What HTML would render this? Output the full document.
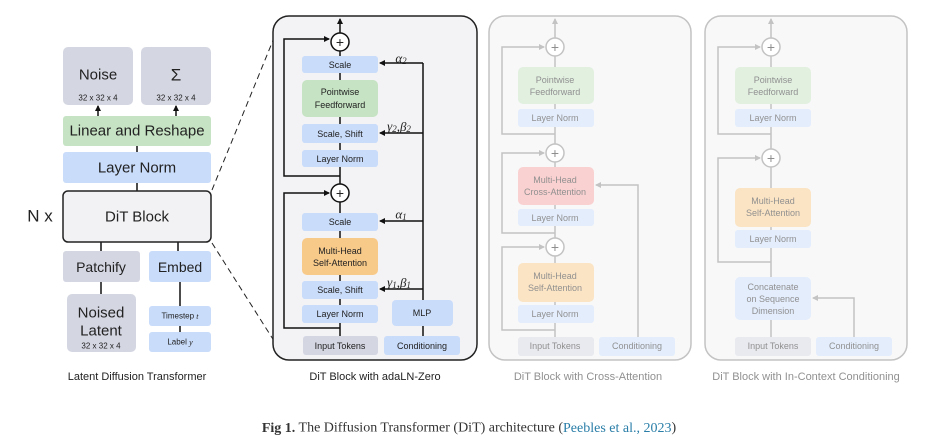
<!DOCTYPE html>
<html><head><meta charset="utf-8"><style>
body{margin:0;background:#fff;width:948px;height:442px;overflow:hidden}
svg{display:block}
text{font-family:"Liberation Sans",sans-serif;text-anchor:middle;dominant-baseline:central;fill:#222}
text.serif{font-family:"Liberation Serif",serif}
</style></head><body>
<svg width="948" height="442" viewBox="0 0 948 442" xmlns="http://www.w3.org/2000/svg">
<defs>
<marker id="a" markerWidth="6" markerHeight="6" refX="5" refY="3" orient="auto" markerUnits="userSpaceOnUse"><path d="M0,0L6,3L0,6z" fill="#111"/></marker>
<marker id="g" markerWidth="6" markerHeight="6" refX="5" refY="3" orient="auto" markerUnits="userSpaceOnUse"><path d="M0,0L6,3L0,6z" fill="#888"/></marker>
</defs>
<!-- Left -->
<g stroke="#111" stroke-width="1.5">
<line x1="98" y1="116" x2="98" y2="106" marker-end="url(#a)"/>
<line x1="176" y1="116" x2="176" y2="106" marker-end="url(#a)"/>
<line x1="137" y1="146" x2="137" y2="152"/>
<line x1="137" y1="183" x2="137" y2="191"/>
<line x1="101" y1="242" x2="101" y2="251"/>
<line x1="178" y1="242" x2="178" y2="251"/>
<line x1="101" y1="282" x2="101" y2="294"/>
<line x1="180" y1="282" x2="180" y2="306"/>
<line x1="180" y1="326" x2="180" y2="332"/>
</g>
<rect x="63" y="47" width="70" height="58" rx="5" fill="#d4d6e2"/>
<rect x="141" y="47" width="70" height="58" rx="5" fill="#d4d6e2"/>
<text x="98" y="75" font-size="15">Noise</text><text x="98" y="98" font-size="8">32 x 32 x 4</text>
<text x="176" y="75" font-size="17">Σ</text><text x="176" y="98" font-size="8">32 x 32 x 4</text>
<rect x="63" y="116" width="148" height="30" rx="3" fill="#c6e3c3"/>
<text x="137" y="131" font-size="15">Linear and Reshape</text>
<rect x="63" y="152" width="148" height="31" rx="3" fill="#c9dcfa"/>
<text x="137" y="168" font-size="15">Layer Norm</text>
<rect x="63" y="191" width="148" height="51" rx="5" fill="#f2f2f4" stroke="#222" stroke-width="1.5"/>
<text x="137" y="217" font-size="15">DiT Block</text>
<text x="40" y="216" font-size="17">N x</text>
<rect x="63" y="251" width="77" height="31" rx="3" fill="#d4d6e2"/>
<text x="101" y="267" font-size="14">Patchify</text>
<rect x="149" y="251" width="62" height="31" rx="3" fill="#c9dcfa"/>
<text x="180" y="267" font-size="14">Embed</text>
<rect x="67" y="294" width="69" height="58" rx="5" fill="#d4d6e2"/>
<text x="101" y="313" font-size="15">Noised</text><text x="101" y="331" font-size="15">Latent</text><text x="101" y="346" font-size="8">32 x 32 x 4</text>
<rect x="149" y="306" width="62" height="20" rx="3" fill="#c9dcfa"/>
<text x="180" y="316" font-size="8">Timestep <tspan style="font-style:italic;font-family:'Liberation Serif',serif">t</tspan></text>
<rect x="149" y="332" width="62" height="20" rx="3" fill="#c9dcfa"/>
<text x="180" y="342" font-size="8">Label <tspan style="font-style:italic;font-family:'Liberation Serif',serif">y</tspan></text>
<text x="137" y="377" font-size="11">Latent Diffusion Transformer</text>
<g stroke="#222" stroke-width="1" stroke-dasharray="6,4">
<line x1="212" y1="190" x2="276" y2="33"/><line x1="212" y1="243" x2="276" y2="344"/>
</g>

<!-- Panel 1 -->
<rect x="273" y="16" width="204" height="344" rx="16" fill="#f3f3f5" stroke="#222" stroke-width="1.5"/>
<g stroke="#111" stroke-width="1.5" fill="none">
<line x1="340" y1="336" x2="340" y2="51"/>
<line x1="340" y1="33" x2="340" y2="19" marker-end="url(#a)"/>
<polyline points="340,176 284,176 284,39 329,39" marker-end="url(#a)"/>
<polyline points="340,328 284,328 284,193 329,193" marker-end="url(#a)"/>
<line x1="423" y1="336" x2="423" y2="63"/>
<line x1="423" y1="63" x2="380" y2="63" marker-end="url(#a)"/>
<line x1="423" y1="133" x2="380" y2="133" marker-end="url(#a)"/>
<line x1="423" y1="221" x2="380" y2="221" marker-end="url(#a)"/>
<line x1="423" y1="289" x2="380" y2="289" marker-end="url(#a)"/>
</g>
<g font-size="9">
<circle cx="340" cy="42" r="9" fill="#fff" stroke="#111" stroke-width="1.5"/><text x="340" y="42" font-size="14">+</text>
<circle cx="340" cy="193" r="9" fill="#fff" stroke="#111" stroke-width="1.5"/><text x="340" y="193" font-size="14">+</text>
<rect x="302" y="56" width="76" height="17" rx="3" fill="#c9dcfa"/><text x="340" y="65">Scale</text>
<rect x="302" y="80" width="76" height="37" rx="5" fill="#c6e3c3"/><text x="340" y="92">Pointwise</text><text x="340" y="105">Feedforward</text>
<rect x="302" y="124" width="76" height="19" rx="3" fill="#c9dcfa"/><text x="340" y="134">Scale, Shift</text>
<rect x="302" y="150" width="76" height="17" rx="3" fill="#c9dcfa"/><text x="340" y="159">Layer Norm</text>
<rect x="302" y="213" width="76" height="18" rx="3" fill="#c9dcfa"/><text x="340" y="222">Scale</text>
<rect x="302" y="238" width="76" height="37" rx="5" fill="#f8ca8a"/><text x="340" y="251">Multi-Head</text><text x="340" y="263">Self-Attention</text>
<rect x="302" y="281" width="76" height="18" rx="3" fill="#c9dcfa"/><text x="340" y="290">Scale, Shift</text>
<rect x="302" y="305" width="76" height="18" rx="3" fill="#c9dcfa"/><text x="340" y="314">Layer Norm</text>
<rect x="303" y="336" width="75" height="19" rx="3" fill="#d4d6e2"/><text x="340" y="346">Input Tokens</text>
<rect x="384" y="336" width="76" height="19" rx="3" fill="#c9dcfa"/><text x="422" y="346">Conditioning</text>
<rect x="392" y="300" width="61" height="26" rx="4" fill="#c9dcfa"/><text x="422" y="313">MLP</text>
</g>
<g style="font-style:italic">
<text class="serif" x="401" y="58" font-size="13">α<tspan font-size="9" dy="3">2</tspan></text>
<text class="serif" x="399" y="126" font-size="13">γ<tspan font-size="9" dy="3">2</tspan><tspan dy="-3">,β</tspan><tspan font-size="9" dy="3">2</tspan></text>
<text class="serif" x="401" y="214" font-size="13">α<tspan font-size="9" dy="3">1</tspan></text>
<text class="serif" x="399" y="282" font-size="13">γ<tspan font-size="9" dy="3">1</tspan><tspan dy="-3">,β</tspan><tspan font-size="9" dy="3">1</tspan></text>
</g>
<text x="375" y="377" font-size="11">DiT Block with adaLN-Zero</text>

<!-- Panel 2 -->
<g opacity="0.5">
<rect x="489" y="16" width="202" height="344" rx="16" fill="#f3f3f5" stroke="#888" stroke-width="1.5"/>
<g stroke="#888" stroke-width="1.5" fill="none">
<line x1="555" y1="337" x2="555" y2="56"/>
<line x1="555" y1="38" x2="555" y2="19" marker-end="url(#g)"/>
<polyline points="555,134 502,134 502,47 544,47" marker-end="url(#g)"/>
<polyline points="555,233 502,233 502,153 544,153" marker-end="url(#g)"/>
<polyline points="555,330 502,330 502,247 544,247" marker-end="url(#g)"/>
<polyline points="638,337 638,185 596,185" marker-end="url(#g)"/>
</g>
<g font-size="9">
<circle cx="555" cy="47" r="9" fill="#fff" stroke="#888" stroke-width="1.5"/><text x="555" y="47" font-size="14" fill="#888">+</text>
<circle cx="555" cy="153" r="9" fill="#fff" stroke="#888" stroke-width="1.5"/><text x="555" y="153" font-size="14" fill="#888">+</text>
<circle cx="555" cy="247" r="9" fill="#fff" stroke="#888" stroke-width="1.5"/><text x="555" y="247" font-size="14" fill="#888">+</text>
<rect x="518" y="67" width="76" height="37" rx="5" fill="#c6e3c3"/><text x="555" y="80">Pointwise</text><text x="555" y="92">Feedforward</text>
<rect x="518" y="109" width="76" height="18" rx="3" fill="#c9dcfa"/><text x="555" y="118">Layer Norm</text>
<rect x="518" y="167" width="76" height="38" rx="5" fill="#f6a4a4"/><text x="555" y="180">Multi-Head</text><text x="555" y="192">Cross-Attention</text>
<rect x="518" y="209" width="76" height="17" rx="3" fill="#c9dcfa"/><text x="555" y="218">Layer Norm</text>
<rect x="518" y="263" width="76" height="39" rx="5" fill="#f8ca8a"/><text x="555" y="276">Multi-Head</text><text x="555" y="288">Self-Attention</text>
<rect x="518" y="305" width="76" height="18" rx="3" fill="#c9dcfa"/><text x="555" y="314">Layer Norm</text>
<rect x="518" y="337" width="76" height="19" rx="3" fill="#d4d6e2"/><text x="555" y="346">Input Tokens</text>
<rect x="599" y="337" width="76" height="19" rx="3" fill="#c9dcfa"/><text x="637" y="346">Conditioning</text>
</g>
<text x="588" y="377" font-size="11">DiT Block with Cross-Attention</text>
</g>

<!-- Panel 3 -->
<g opacity="0.5">
<rect x="705" y="16" width="202" height="344" rx="16" fill="#f3f3f5" stroke="#888" stroke-width="1.5"/>
<g stroke="#888" stroke-width="1.5" fill="none">
<line x1="771" y1="337" x2="771" y2="56"/>
<line x1="771" y1="38" x2="771" y2="19" marker-end="url(#g)"/>
<polyline points="771,134 718,134 718,47 760,47" marker-end="url(#g)"/>
<polyline points="771,262 718,262 718,158 760,158" marker-end="url(#g)"/>
<polyline points="854,337 854,298 813,298" marker-end="url(#g)"/>
</g>
<g font-size="9">
<circle cx="771" cy="47" r="9" fill="#fff" stroke="#888" stroke-width="1.5"/><text x="771" y="47" font-size="14" fill="#888">+</text>
<circle cx="771" cy="158" r="9" fill="#fff" stroke="#888" stroke-width="1.5"/><text x="771" y="158" font-size="14" fill="#888">+</text>
<rect x="735" y="67" width="76" height="37" rx="5" fill="#c6e3c3"/><text x="773" y="80">Pointwise</text><text x="773" y="92">Feedforward</text>
<rect x="735" y="109" width="76" height="18" rx="3" fill="#c9dcfa"/><text x="773" y="118">Layer Norm</text>
<rect x="735" y="188" width="76" height="39" rx="5" fill="#f8ca8a"/><text x="773" y="201">Multi-Head</text><text x="773" y="213">Self-Attention</text>
<rect x="735" y="230" width="76" height="18" rx="3" fill="#c9dcfa"/><text x="773" y="239">Layer Norm</text>
<rect x="735" y="277" width="76" height="43" rx="5" fill="#c9dcfa"/><text x="773" y="287">Concatenate</text><text x="773" y="299">on Sequence</text><text x="773" y="311">Dimension</text>
<rect x="735" y="337" width="76" height="19" rx="3" fill="#d4d6e2"/><text x="773" y="346">Input Tokens</text>
<rect x="816" y="337" width="76" height="19" rx="3" fill="#c9dcfa"/><text x="854" y="346">Conditioning</text>
</g>
<text x="806" y="377" font-size="11">DiT Block with In-Context Conditioning</text>
</g>

<text class="serif" x="469" y="428" font-size="14" style="fill:#333"><tspan font-weight="bold">Fig 1.</tspan> The Diffusion Transformer (DiT) architecture (<tspan style="fill:#2a7ea8">Peebles et al., 2023</tspan>)</text>
</svg>
</body></html>
